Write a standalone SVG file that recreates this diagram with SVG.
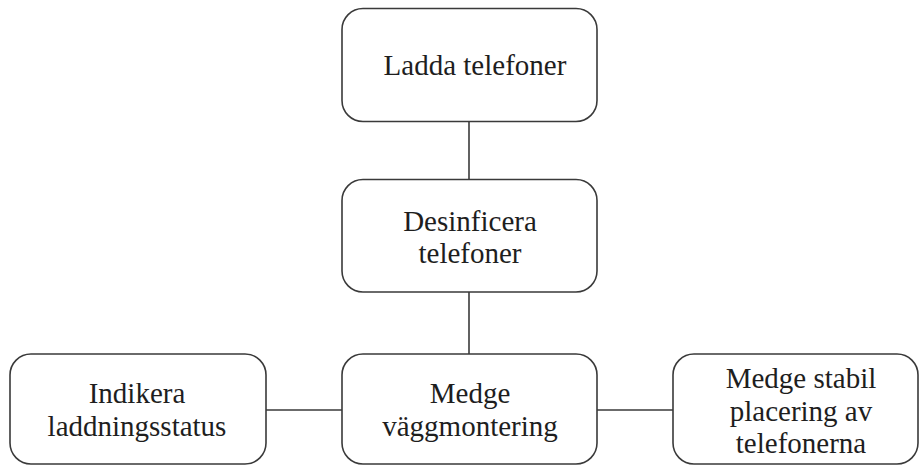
<svg xmlns="http://www.w3.org/2000/svg" width="920" height="466" viewBox="0 0 920 466">
<style>
.box{fill:#fff;stroke:#3a3a3a;stroke-width:1.6}
.lbl{font-family:"Liberation Serif","DejaVu Serif",serif;font-size:29px;fill:#1e1e1e;text-anchor:middle}
.con{stroke:#3a3a3a;stroke-width:1.6;fill:none}
</style>
<rect width="920" height="466" fill="#fff"/>
<g id="connectors">
<line class="con" x1="469" y1="121" x2="469" y2="180"/>
<line class="con" x1="469" y1="292" x2="469" y2="354"/>
<line class="con" x1="266" y1="410" x2="342" y2="410"/>
<line class="con" x1="597" y1="410" x2="673" y2="410"/>
</g>
<g id="n-ladda">
<rect class="box" x="342" y="8.5" width="255" height="113" rx="21"/>
<text class="lbl" x="475" y="75">Ladda telefoner</text>
</g>
<g id="n-desinficera">
<rect class="box" x="342" y="179.5" width="255" height="112.5" rx="21"/>
<text class="lbl" x="470" y="231">Desinficera</text>
<text class="lbl" x="470" y="263">telefoner</text>
</g>
<g id="n-medge">
<rect class="box" x="342" y="354" width="255" height="110" rx="21"/>
<text class="lbl" x="470" y="403">Medge</text>
<text class="lbl" x="470" y="436">väggmontering</text>
</g>
<g id="n-indikera">
<rect class="box" x="10" y="354" width="256" height="110" rx="21"/>
<text class="lbl" x="137" y="403">Indikera</text>
<text class="lbl" x="137" y="436">laddningsstatus</text>
</g>
<g id="n-stabil">
<rect class="box" x="673" y="354" width="245" height="110" rx="21"/>
<text class="lbl" x="801" y="388">Medge stabil</text>
<text class="lbl" x="801" y="421">placering av</text>
<text class="lbl" x="801" y="453">telefonerna</text>
</g>
</svg>
